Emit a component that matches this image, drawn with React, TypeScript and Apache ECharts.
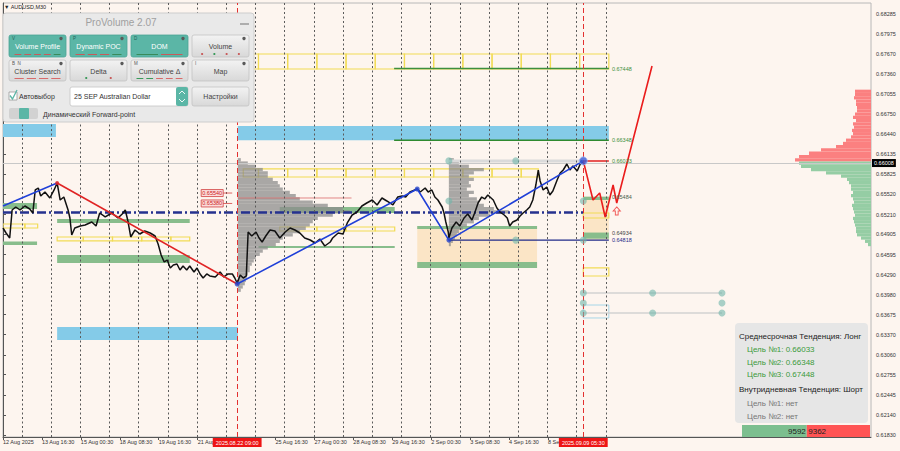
import React, { useEffect, useRef } from 'react';
import * as echarts from 'echarts';

const FONT = '"Liberation Sans", Arial, sans-serif';
const BG = '#FDF5EF';

// ---------- axes ----------
const priceTickLabels = ['0.61830','0.62140','0.62445','0.62755','0.63060','0.63370','0.63675','0.63980','0.64290','0.64595','0.64905','0.65210','0.65520','0.65825','0.66135','0.66440','0.66750','0.67055','0.67360','0.67670','0.67975','0.68285'];
const priceTickValues = priceTickLabels.map(Number);
const Y_MIN = 0.61799;
const Y_MAX = 0.68454;
const X_MAX = 1427; // M30 bars across the plot
const PX_TO_BARS = 1.644;

const timeLabelBars = [0, 64, 128, 192, 256, 320, 448, 512, 576, 640, 704, 768, 832, 896];
const timeLabels = ['12 Aug 2025','13 Aug 16:30','15 Aug 00:30','18 Aug 08:30','19 Aug 16:30','21 Aug 00:30','25 Aug 16:30','27 Aug 00:30','28 Aug 08:30','29 Aug 16:30','2 Sep 00:30','3 Sep 08:30','4 Sep 16:30','8 Sep 00:30'];
const sessionDays = ['13 Aug','14 Aug','15 Aug','18 Aug','19 Aug','20 Aug','21 Aug','22 Aug','25 Aug','26 Aug','27 Aug','28 Aug','29 Aug','1 Sep','2 Sep','3 Sep','4 Sep','5 Sep','8 Sep','9 Sep','10 Sep'];
const FIRST_SESSION_BAR = 31;
const BARS_PER_DAY = 48;
const BOX_OFFSET = 5;

const eventBars = [385, 954];
const eventLabels = ['2025.08.22 09:00', '2025.09.09 05:30'];
const BID = 0.66008;

// ---------- price (close path, [bar, price]) ----------
const closeSeries: number[][] = [
[0,0.65004],[5,0.64927],[11,0.64851],[15,0.65280],[21,0.65326],[28,0.65280],[36,0.65341],[44,0.65295],[49,0.65234],[53,0.65587],[58,0.65617],[62,0.65495],[69,0.65556],[77,0.65464],[84,0.65587],[89,0.65694],[94,0.65433],[100,0.65479],[107,0.65280],[110,0.65157],[113,0.64897],[118,0.65004],[127,0.65035],[135,0.65050],[146,0.65096],[153,0.65035],[159,0.65234],[168,0.65173],[179,0.65234],[189,0.65157],[196,0.65219],[201,0.65280],[205,0.65127],[210,0.64866],[217,0.64973],[225,0.64912],[233,0.64958],[242,0.64927],[250,0.64881],[255,0.64759],[260,0.64590],[265,0.64483],[270,0.64513],[275,0.64391],[280,0.64437],[286,0.64452],[291,0.64360],[296,0.64421],[302,0.64360],[307,0.64421],[314,0.64329],[319,0.64391],[324,0.64299],[329,0.64237],[335,0.64299],[340,0.64268],[349,0.64253],[357,0.64329],[363,0.64253],[370,0.64299],[377,0.64299],[381,0.64237],[385,0.64161],
[390,0.64283],[395,0.64237],[400,0.64268],[403,0.64943],[409,0.64881],[416,0.64943],[421,0.64851],[426,0.64789],[432,0.64881],[439,0.64973],[447,0.64958],[455,0.64851],[464,0.64943],[472,0.65004],[480,0.64973],[488,0.64927],[496,0.64851],[505,0.64820],[513,0.64774],[521,0.64835],[529,0.64728],[538,0.64789],[542,0.64851],[551,0.64927],[559,0.64912],[566,0.65081],[574,0.65203],[582,0.65249],[590,0.65341],[598,0.65387],[607,0.65433],[615,0.65357],[623,0.65464],[631,0.65418],[641,0.65357],[649,0.65479],[656,0.65495],[662,0.65479],[669,0.65556],[677,0.65587],[681,0.65602],[686,0.65556],[694,0.65617],[699,0.65556],[705,0.65587],[710,0.65479],[715,0.65433],[722,0.65326],[725,0.65234],[728,0.65096],[732,0.64943],[733,0.64851],
[738,0.65004],[745,0.65096],[751,0.65035],[758,0.65157],[764,0.65219],[771,0.65127],[776,0.65249],[781,0.65387],[787,0.65479],[792,0.65449],[797,0.65510],[806,0.65433],[812,0.65311],[817,0.65249],[824,0.65203],[829,0.65157],[833,0.65035],[838,0.65096],[845,0.65127],[850,0.65188],[855,0.65234],[861,0.65280],[866,0.65326],[871,0.65433],[876,0.65663],[880,0.65893],[883,0.65725],[888,0.65587],[894,0.65633],[899,0.65510],[904,0.65571],[911,0.65740],[916,0.65847],[921,0.65893],[927,0.65985],[932,0.65893],[937,0.65955],[944,0.65878],[949,0.65985],[951,0.66033],[954,0.66008]
];

// ---------- zigzag / forecast ----------
const trendUpA = [[0,0.65341],[89,0.65694]];
const trendDown = [[89,0.65694],[385,0.64145]];
const trendUpB = [[385,0.64145],[681,0.65602],[733,0.64818],[954,0.66033]];
const forecastPath = [[954,0.66033],[970,0.65433],[981,0.65541],[990,0.65173],[1003,0.65663],[1009,0.65387],[1067,0.67488]];
const forecastArrow = [[1009,0.65265]];
const MID_LEVEL = 0.65242;

// ---------- zones [startBar, endBar, topPrice, bottomPrice] ----------
const blueZones = [[0,87,0.66599,0.66399],[386,996,0.66568,0.66348],[89,386,0.63486,0.63287]];
const beigeZones = [[681,878,0.65035,0.64391],[954,996,0.65484,0.64818]];
const greenZones = [
[0,56,0.65387,0.65295],[0,56,0.64795,0.64743],[89,307,0.65142,0.65081],[89,307,0.64590,0.64467],
[455,644,0.65326,0.65234],[420,644,0.64728,0.64697],[681,878,0.65035,0.64989],[681,878,0.64483,0.64391],
[954,996,0.65484,0.65433],[954,996,0.64934,0.64840]
];
const yellowRows = [
[386,996,0.67672,0.67442],[395,880,0.65909,0.65786],[455,644,0.65019,0.64958],[0,57,0.65065,0.65004],
[89,307,0.64866,0.64805],[954,996,0.65234,0.65157],[954,996,0.64391,0.64268]
];
const cyanOutline = [[954,996,0.63823,0.63624]];

// ---------- levels [startBar, endBar, price] ----------
const levelSegments = [
[643,996,0.67448],[643,996,0.66348],[954,996,0.66033],[733,996,0.64818],
[733,954,0.66033],[386,573,0.65464],[954,1182,0.64007],[954,1182,0.63701]
];
const levelStyles = [
{color:'#3d8f3d',width:1.5},{color:'#2f8a2f',width:1.5},{color:'#e02020',width:1.5},{color:'#1f2a8a',width:1.2},
{color:'#dadada',width:3},{color:'rgba(215,90,90,0.7)',width:1},{color:'#d2d2d2',width:1.5},{color:'#d2d2d2',width:1.5}
];
const LABEL_BAR = 1001;
const levelLabelPrices = [0.67448,0.66348,0.66033,0.65484,0.64934,0.64818];
const levelLabelColors = ['#3d8f3d','#3d8f3d','#3d8f3d','#4a5f4a','#444444','#1f2a8a'];
const TAG_BAR = 362;
const tagPrices = [0.65540, 0.65380];

// ---------- markers ----------
const targetCircles = [[733,0.66033],[843,0.66033],[733,0.65418],[954,0.65418],[843,0.64818],[954,0.64818],[954,0.64007],[1068,0.64007],[1182,0.64007],[954,0.63854],[1182,0.63854],[954,0.63701],[1068,0.63701],[1182,0.63701]];
const pivotDots = [[385,0.64145],[681,0.65602],[733,0.64818]];
const lastPivot = [[954,0.66033]];
const topPivot = [[89,0.65694]];

// ---------- volume profiles ----------
const profileALevels = [0.6605,0.6600,0.6595,0.6590,0.6585,0.6580,0.6575,0.6570,0.6565,0.6560,0.6555,0.6550,0.6545,0.6540,0.6535,0.6530,0.6525,0.6520,0.6515,0.6510,0.6505,0.6500,0.6495,0.6490,0.6485,0.6480,0.6475,0.6470,0.6465,0.6460,0.6455,0.6450,0.6445,0.6440,0.6435,0.6430,0.6425,0.6420,0.6415,0.6410,0.6405];
const profileAVolumes = [3,10,18,25,30,30,35,40,42,45,52,58,62,75,90,105,112,95,80,75,72,68,62,55,45,42,38,30,25,22,18,16,14,12,12,10,9,8,7,5,3];
const PROFILE_A_BAR = 386;
const profileBLevels = [0.6605,0.6600,0.6595,0.6590,0.6585,0.6580,0.6575,0.6570,0.6565,0.6560,0.6555,0.6550,0.6545,0.6540,0.6535,0.6530,0.6525,0.6520,0.6515,0.6510,0.6505,0.6500,0.6495,0.6490,0.6485,0.6480,0.6475];
const profileBVolumes = [5,10,20,35,25,20,25,20,22,18,25,20,28,30,35,45,60,40,30,25,18,14,10,8,6,4,2];
const PROFILE_B_BAR = 733;
const domAskLevels = [0.6710,0.6705,0.6700,0.6695,0.6690,0.6685,0.6680,0.6675,0.6670,0.6665,0.6660,0.6655,0.6650,0.6645,0.6640,0.6635,0.6630,0.6625,0.6620,0.6615,0.6610,0.6605];
const domAskVolumes = [16,16,17,15,15,14,14,16,18,15,18,17,19,18,20,25,28,35,50,62,72,76];
const domBidLevels = [0.6600,0.6595,0.6590,0.6585,0.6580,0.6575,0.6570,0.6565,0.6560,0.6555,0.6550,0.6545,0.6540,0.6535,0.6530,0.6525,0.6520,0.6515,0.6510,0.6505,0.6500,0.6495,0.6490,0.6485,0.6480,0.6475];
const domBidVolumes = [72,70,60,45,30,24,22,20,20,18,20,18,17,19,18,17,16,18,17,16,15,15,14,10,6,3];
const PROFILE_STEP = 0.0005;

// ---------- info panel ----------
const longTargets = [0.66033, 0.66348, 0.67448];
const buyVolume = 9592;
const sellVolume = 9362;

const panelButtons = [
  { label: 'Volume Profile', tag: 'V', x: 9, y: 35, w: 57, h: 22, on: true, marks: ['#c85a5a','#c85a5a','#c85a5a','#c85a5a','#3a8a5a'], dots: false },
  { label: 'Dynamic POC', tag: 'P', x: 70, y: 35, w: 57, h: 22, on: true, marks: ['#c85a5a','#c85a5a','#c85a5a','#3a8a5a'], dots: false },
  { label: 'DOM', tag: 'D', x: 131, y: 35, w: 57, h: 22, on: true, marks: ['#3a8a5a','#c85a5a'], dots: false },
  { label: 'Volume', tag: '', x: 192, y: 35, w: 57, h: 22, on: false, marks: ['#c85a5a','#3a9a5a','#c85a5a','#c85a5a'], dots: true },
  { label: 'Cluster Search', tag: 'B  N', x: 9, y: 60, w: 57, h: 21, on: false, marks: ['#d86a6a','#d86a6a','#d86a6a','#d86a6a'], dots: false },
  { label: 'Delta', tag: '', x: 70, y: 60, w: 57, h: 21, on: false, marks: ['#3a9a5a','#c85a5a'], dots: true },
  { label: 'Cumulative Δ', tag: 'M', x: 131, y: 60, w: 57, h: 21, on: false, marks: ['#3a9a5a','#3a9a5a','#d86a6a','#d86a6a','#d86a6a'], dots: false },
  { label: 'Map', tag: 'I', x: 192, y: 60, w: 57, h: 21, on: false, marks: [], dots: false },
];

const TEAL = '#5bb6a6';
const grayGrad = { type: 'linear', x: 0, y: 0, x2: 0, y2: 1, colorStops: [{ offset: 0, color: '#f3f3f3' }, { offset: 1, color: '#d8d8d8' }] };

function buildPanel(): any[] {
  const els: any[] = [];
  const Z = 100;
  els.push({ type: 'text', z: Z, x: 4, y: 7, style: { text: '▼ AUDUSD,M30', fill: '#222', fontSize: 5.5, fontFamily: FONT, verticalAlign: 'middle' } });
  els.push({ type: 'rect', z: Z, shape: { x: 3, y: 13, width: 251, height: 109, r: 3 }, style: { fill: '#e9e9e9', stroke: '#cdcdcd', lineWidth: 1 } });
  els.push({ type: 'text', z: Z, x: 121, y: 22, style: { text: 'ProVolume 2.07', fill: '#a0a0a0', fontSize: 10, fontFamily: FONT, align: 'center', verticalAlign: 'middle' } });
  els.push({ type: 'line', z: Z, shape: { x1: 240, y1: 24, x2: 249, y2: 24 }, style: { stroke: '#999', lineWidth: 1.5 } });
  panelButtons.forEach((b) => {
    els.push({ type: 'rect', z: Z, shape: { x: b.x, y: b.y, width: b.w, height: b.h, r: 2 }, style: { fill: b.on ? TEAL : grayGrad, stroke: b.on ? '#4aa394' : '#c3c3c3', lineWidth: 0.8 } });
    els.push({ type: 'text', z: Z + 1, x: b.x + b.w / 2, y: b.y + b.h / 2 + 0.5, style: { text: b.label, fill: b.on ? '#ffffff' : '#444', fontSize: 7, fontFamily: FONT, align: 'center', verticalAlign: 'middle' } });
    if (b.tag) els.push({ type: 'text', z: Z + 1, x: b.x + 3, y: b.y + 3.5, style: { text: b.tag, fill: b.on ? '#24645a' : '#555', fontSize: 4.5, fontFamily: FONT, verticalAlign: 'middle' } });
    els.push({ type: 'circle', z: Z + 1, shape: { cx: b.x + b.w - 5, cy: b.y + 3.5, r: 1.7 }, style: { fill: '#5a5a5a' } });
    const n = b.marks.length;
    if (n) {
      const span = (b.w - 8) / n;
      b.marks.forEach((c, i) => {
        const cx = b.x + 4 + span * i + span / 2;
        if (b.dots) els.push({ type: 'circle', z: Z + 1, shape: { cx, cy: b.y + b.h - 3, r: 1.1 }, style: { fill: c } });
        else els.push({ type: 'line', z: Z + 1, shape: { x1: cx - span / 2 + 1.5, y1: b.y + b.h - 2.5, x2: cx + span / 2 - 1.5, y2: b.y + b.h - 2.5 }, style: { stroke: c, lineWidth: 1 } });
      });
    }
  });
  // checkbox
  els.push({ type: 'rect', z: Z, shape: { x: 9, y: 92, width: 8, height: 8 }, style: { fill: '#fff', stroke: '#9a9a9a', lineWidth: 0.8 } });
  els.push({ type: 'polyline', z: Z + 1, shape: { points: [[10, 95.5], [12.5, 99], [17, 90]] }, style: { stroke: TEAL, lineWidth: 1.3, fill: 'none' } });
  els.push({ type: 'text', z: Z, x: 19, y: 96, style: { text: 'Автовыбор', fill: '#333', fontSize: 7, fontFamily: FONT, verticalAlign: 'middle' } });
  // dropdown
  els.push({ type: 'rect', z: Z, shape: { x: 70, y: 87, width: 118, height: 19, r: 2 }, style: { fill: '#fff', stroke: '#c4c4c4', lineWidth: 0.8 } });
  els.push({ type: 'text', z: Z, x: 74, y: 96.5, style: { text: '25 SEP Australian Dollar', fill: '#333', fontSize: 7, fontFamily: FONT, verticalAlign: 'middle' } });
  els.push({ type: 'rect', z: Z, shape: { x: 176, y: 87, width: 12, height: 19, r: 2 }, style: { fill: TEAL } });
  els.push({ type: 'polyline', z: Z + 1, shape: { points: [[179, 94], [182, 91], [185, 94]] }, style: { stroke: '#fff', lineWidth: 0.9, fill: 'none' } });
  els.push({ type: 'polyline', z: Z + 1, shape: { points: [[179, 99], [182, 102], [185, 99]] }, style: { stroke: '#fff', lineWidth: 0.9, fill: 'none' } });
  // settings
  els.push({ type: 'rect', z: Z, shape: { x: 192, y: 87, width: 57, height: 19, r: 2 }, style: { fill: grayGrad, stroke: '#c3c3c3', lineWidth: 0.8 } });
  els.push({ type: 'text', z: Z + 1, x: 220.5, y: 96.5, style: { text: 'Настройки', fill: '#444', fontSize: 7, fontFamily: FONT, align: 'center', verticalAlign: 'middle' } });
  // toggle
  els.push({ type: 'rect', z: Z, shape: { x: 9, y: 108, width: 29, height: 11, r: 2 }, style: { fill: '#d2d2d2' } });
  els.push({ type: 'rect', z: Z + 1, shape: { x: 19, y: 108, width: 10, height: 11, r: 1 }, style: { fill: TEAL } });
  els.push({ type: 'text', z: Z, x: 43, y: 114, style: { text: 'Динамический Forward-point', fill: '#333', fontSize: 7, fontFamily: FONT, verticalAlign: 'middle' } });

  // info box
  els.push({ type: 'rect', z: Z, shape: { x: 735, y: 323, width: 133, height: 100, r: 4 }, style: { fill: '#e6e6e6' } });
  const info = [
    { t: 'Среднесрочная Тенденция: Лонг', c: '#222', x: 739, y: 336 },
    { t: 'Цель №1: ' + longTargets[0].toFixed(5), c: '#3a9a3a', x: 747, y: 349 },
    { t: 'Цель №2: ' + longTargets[1].toFixed(5), c: '#3a9a3a', x: 747, y: 362 },
    { t: 'Цель №3: ' + longTargets[2].toFixed(5), c: '#3a9a3a', x: 747, y: 374.5 },
    { t: 'Внутридневная Тенденция: Шорт', c: '#222', x: 739, y: 389 },
    { t: 'Цель №1: нет', c: '#777', x: 747, y: 403 },
    { t: 'Цель №2: нет', c: '#777', x: 747, y: 416 },
  ];
  info.forEach((l) => els.push({ type: 'text', z: Z + 1, x: l.x, y: l.y, style: { text: l.t, fill: l.c, fontSize: 8, fontFamily: FONT, verticalAlign: 'middle' } }));
  const total = buyVolume + sellVolume;
  const W = 128;
  const gw = (W * buyVolume) / total;
  els.push({ type: 'rect', z: Z, shape: { x: 742, y: 425, width: gw, height: 12 }, style: { fill: '#7cbf8f' } });
  els.push({ type: 'rect', z: Z, shape: { x: 742 + gw, y: 425, width: W - gw, height: 12 }, style: { fill: '#ff5454' } });
  els.push({ type: 'text', z: Z + 1, x: 742 + gw - 1, y: 431, style: { text: String(buyVolume), fill: '#222', fontSize: 8, fontFamily: FONT, align: 'right', verticalAlign: 'middle' } });
  els.push({ type: 'text', z: Z + 1, x: 742 + gw + 1.5, y: 431, style: { text: String(sellVolume), fill: '#222', fontSize: 8, fontFamily: FONT, align: 'left', verticalAlign: 'middle' } });
  return els;
}

function rectRender(style: any) {
  return (_p: any, api: any) => {
    const a = api.coord([api.value(0), api.value(2)]);
    const b = api.coord([api.value(1), api.value(3)]);
    return {
      type: 'rect',
      shape: { x: Math.min(a[0], b[0]), y: Math.min(a[1], b[1]), width: Math.abs(b[0] - a[0]), height: Math.abs(b[1] - a[1]) },
      style,
    };
  };
}

function zoneSeries(name: string, rows: number[][], style: any, z: number) {
  return { type: 'custom', name, z, silent: true, clip: true, data: rows, encode: { x: [0, 1], y: [2, 3] }, renderItem: rectRender(style) };
}

function segmentRows(rows: number[][]) {
  const out: number[][] = [];
  rows.forEach(([s, e, t, b]) => {
    const cuts = [s];
    sessionDays.forEach((_d, i) => {
      const c = FIRST_SESSION_BAR + BOX_OFFSET + i * BARS_PER_DAY;
      if (c > s + 2 && c < e - 2) cuts.push(c);
    });
    cuts.push(e);
    for (let i = 0; i < cuts.length - 1; i++) out.push([cuts[i], cuts[i + 1], t, b]);
  });
  return out;
}

function profileSeries(name: string, anchor: number, dir: number, levels: number[], vols: number[], fill: string, z: number) {
  return {
    type: 'custom', name, z, silent: true, clip: true,
    data: levels.map((p, i) => [anchor, p, vols[i]]),
    encode: { x: 0, y: 1 },
    renderItem: (_p: any, api: any) => {
      const anc = api.value(0), p = api.value(1), v = api.value(2);
      const a = api.coord([anc, p + PROFILE_STEP / 2]);
      const b = api.coord([anc + dir * v * PX_TO_BARS, p - PROFILE_STEP / 2]);
      return { type: 'rect', shape: { x: Math.min(a[0], b[0]), y: a[1], width: Math.abs(b[0] - a[0]), height: b[1] - a[1] }, style: { fill } };
    },
  };
}

function buildOption(): any {
  const series: any[] = [];
  // session separators
  series.push({
    type: 'line', name: 'sessions', z: 0, silent: true, data: [[0, Y_MIN]], showSymbol: false, lineStyle: { width: 0 },
    markLine: {
      silent: true, symbol: ['none', 'none'], animation: false,
      lineStyle: { color: '#5a5a5a', type: [2, 2.5], width: 1 },
      label: { show: false },
      data: sessionDays.map((_d, i) => ({ xAxis: FIRST_SESSION_BAR + i * BARS_PER_DAY })),
    },
  });
  series.push(zoneSeries('blue', blueZones, { fill: '#84cbe8' }, 1));
  series.push(zoneSeries('beige', beigeZones, { fill: '#fbe5c6' }, 1));
  series.push(zoneSeries('green', greenZones, { fill: '#88bd8c' }, 1));
  series.push(zoneSeries('yellow', segmentRows(yellowRows), { fill: 'none', stroke: '#f2dc55', lineWidth: 1.2 }, 1));
  series.push(zoneSeries('cyan', cyanOutline, { fill: 'none', stroke: '#a6d6e8', lineWidth: 1 }, 1));

  series.push(profileSeries('profileA', PROFILE_A_BAR, 1, profileALevels, profileAVolumes, 'rgba(140,140,140,0.75)', 2));
  series.push(profileSeries('profileB', PROFILE_B_BAR, 1, profileBLevels, profileBVolumes, 'rgba(140,140,140,0.75)', 2));
  series.push(profileSeries('domAsk', X_MAX, -1, domAskLevels, domAskVolumes, '#fb8080', 2));
  series.push(profileSeries('domBid', X_MAX, -1, domBidLevels, domBidVolumes, '#95cda4', 2));

  levelSegments.forEach((s, i) => {
    series.push({ type: 'line', z: 3, silent: true, symbol: 'none', data: [[s[0], s[2]], [s[1], s[2]]], lineStyle: { color: levelStyles[i].color, width: levelStyles[i].width } });
  });
  series.push({ type: 'line', name: 'mid', z: 3, silent: true, symbol: 'none', data: [[0, MID_LEVEL], [eventBars[1], MID_LEVEL]], lineStyle: { color: '#25318f', width: 2.5, type: [9, 3, 2, 3] } });

  // bid line + price tag
  series.push({
    type: 'line', name: 'bid', z: 3, silent: true, data: [[0, BID]], showSymbol: false, lineStyle: { width: 0 },
    markLine: {
      silent: true, symbol: ['none', 'none'], animation: false,
      lineStyle: { color: '#c8c8c8', width: 1, type: 'solid' },
      label: { show: true, position: 'end', formatter: BID.toFixed(5), color: '#fff', backgroundColor: '#000', fontSize: 5.5, fontFamily: FONT, padding: [1, 2, 1, 2], distance: 1 },
      data: [{ yAxis: BID }],
    },
  });
  // event lines
  series.push({
    type: 'line', name: 'events', z: 6, silent: true, data: [[0, Y_MIN]], showSymbol: false, lineStyle: { width: 0 },
    markLine: {
      silent: true, symbol: ['none', 'none'], animation: false,
      lineStyle: { color: '#e33030', type: [5, 3], width: 1 },
      label: { show: true, position: 'start', color: '#fff', backgroundColor: '#ee1515', fontSize: 5.5, fontFamily: FONT, padding: [2, 3, 1, 3], distance: 1 },
      data: eventBars.map((b, i) => ({ xAxis: b, label: { formatter: eventLabels[i] } })),
    },
  });
  // price
  series.push({ type: 'line', name: 'price', z: 5, silent: true, symbol: 'none', data: closeSeries, lineStyle: { color: '#111', width: 1.5 } });
  // zigzag
  series.push({ type: 'line', z: 6, silent: true, symbol: 'none', data: trendUpA, lineStyle: { color: '#2040d8', width: 1.6 } });
  series.push({ type: 'line', z: 6, silent: true, symbol: 'none', data: trendDown, lineStyle: { color: '#e02424', width: 1.6 } });
  series.push({ type: 'line', z: 6, silent: true, symbol: 'none', data: trendUpB, lineStyle: { color: '#2040d8', width: 1.6 } });
  series.push({ type: 'line', z: 6, silent: true, symbol: 'none', data: forecastPath, lineStyle: { color: '#ea1c1c', width: 1.6 } });
  series.push({ type: 'scatter', z: 7, silent: true, data: forecastArrow, symbol: 'path://M5,0 L10,5 L7,5 L7,10 L3,10 L3,5 L0,5 Z', symbolSize: [7, 8], itemStyle: { color: 'rgba(0,0,0,0)', borderColor: '#e33', borderWidth: 1 } });
  // markers
  series.push({ type: 'scatter', z: 7, silent: true, data: targetCircles, symbolSize: 7, itemStyle: { color: 'rgba(112,182,170,0.75)' } });
  series.push({ type: 'scatter', z: 8, silent: true, data: pivotDots, symbolSize: 5, itemStyle: { color: '#2544c9' } });
  series.push({ type: 'scatter', z: 8, silent: true, data: lastPivot, symbolSize: 8, itemStyle: { color: '#3a5ad8', borderColor: '#9ab0f0', borderWidth: 1 } });
  series.push({ type: 'scatter', z: 8, silent: true, data: topPivot, symbolSize: 4, itemStyle: { color: '#e02424' } });
  // level labels
  series.push({
    type: 'custom', z: 9, silent: true, clip: false,
    data: levelLabelPrices.map((p) => [LABEL_BAR, p]), encode: { x: 0, y: 1 },
    renderItem: (params: any, api: any) => {
      const c = api.coord([api.value(0), api.value(1)]);
      return { type: 'text', x: c[0], y: c[1], style: { text: api.value(1).toFixed(5), fill: levelLabelColors[params.dataIndex], fontSize: 5.5, fontFamily: FONT, align: 'left', verticalAlign: 'middle' } };
    },
  });
  // price tags
  series.push({
    type: 'custom', z: 9, silent: true, clip: false,
    data: tagPrices.map((p) => [TAG_BAR, p]), encode: { x: 0, y: 1 },
    renderItem: (_params: any, api: any) => {
      const c = api.coord([api.value(0), api.value(1)]);
      return {
        type: 'group',
        children: [
          { type: 'rect', shape: { x: c[0] - 22, y: c[1] - 3.5, width: 22, height: 7 }, style: { fill: 'rgba(250,205,205,0.6)', stroke: '#d24040', lineWidth: 0.8 } },
          { type: 'text', x: c[0] - 11, y: c[1], style: { text: api.value(1).toFixed(5), fill: '#cc2020', fontSize: 5.5, fontFamily: FONT, align: 'center', verticalAlign: 'middle' } },
          { type: 'line', shape: { x1: c[0], y1: c[1], x2: c[0] + 9, y2: c[1] }, style: { stroke: '#d24040', lineWidth: 0.8 } },
        ],
      };
    },
  });

  return {
    animation: false,
    backgroundColor: BG,
    tooltip: { show: false },
    grid: { left: 3, right: 29, top: 3, bottom: 14, show: true, borderColor: '#b8b8b8', borderWidth: 1, backgroundColor: 'transparent', containLabel: false, outerBoundsMode: 'none' },
    xAxis: {
      type: 'value', min: 0, max: X_MAX,
      axisLine: { show: true, onZero: false, lineStyle: { color: '#555', width: 1 } },
      axisTick: { show: true, customValues: timeLabelBars, length: 3, lineStyle: { color: '#555' } },
      axisLabel: {
        customValues: timeLabelBars, fontSize: 5.5, fontFamily: FONT, color: '#333', align: 'left', margin: 2,
        formatter: (v: number) => { const i = timeLabelBars.indexOf(Math.round(v)); return i >= 0 ? timeLabels[i] : ''; },
      },
      splitLine: { show: false },
    },
    yAxis: {
      type: 'value', position: 'right', min: Y_MIN, max: Y_MAX,
      axisLine: { show: true, lineStyle: { color: '#555', width: 1 } },
      axisTick: { show: true, customValues: priceTickValues, length: 3, lineStyle: { color: '#555' } },
      axisLabel: {
        customValues: priceTickValues, fontSize: 5.5, fontFamily: FONT, color: '#333', margin: 5,
        formatter: (v: number) => { const i = priceTickValues.findIndex((t) => Math.abs(t - v) < 1e-7); return i >= 0 ? priceTickLabels[i] : ''; },
      },
      splitLine: { show: false },
    },
    graphic: { elements: buildPanel() },
    series,
  };
}

export default function App() {
  const ref = useRef<HTMLDivElement>(null);
  useEffect(() => {
    if (!ref.current) return;
    const chart = echarts.init(ref.current, undefined, { renderer: 'svg' });
    chart.setOption(buildOption());
    return () => chart.dispose();
  }, []);
  return <div ref={ref} style={{ position: 'absolute', left: 0, top: 0, width: 900, height: 451, background: BG }} />;
}
